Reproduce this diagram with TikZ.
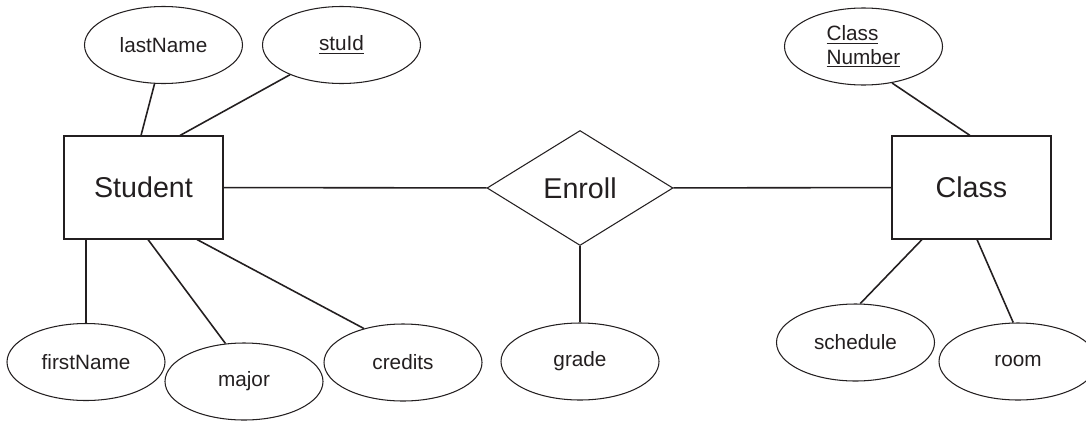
\documentclass[tikz,border=0pt]{standalone}
\usepackage{xcolor}
\usepackage{tikz}
\usepackage{fontspec}
\setmainfont{Liberation Sans}
\usetikzlibrary{positioning, shapes.geometric}
\definecolor{ink}{RGB}{35,31,32}
\tikzstyle{entity} = [rectangle, minimum width=3.18cm, minimum height=2.06cm, inner sep=0pt, text centered, draw=ink, line width=0.6pt, font=\fontsize{16.3}{19}\selectfont]
\tikzstyle{relation} = [diamond, minimum width=3.72cm, minimum height=2.3cm, inner sep=0pt, text centered, draw=ink, line width=0.6pt, font=\fontsize{16.3}{19}\selectfont]
\tikzstyle{attr} = [ellipse, minimum width=3.16cm, minimum height=1.54cm, inner sep=0pt, text centered, draw=ink, line width=0.6pt, font=\fontsize{11.8}{13}\selectfont]
\tikzstyle{link} = [draw=ink, line width=0.9pt]

\begin{document}
\begin{tikzpicture}[node distance=1cm, text=ink]
		\useasboundingbox (0,0) rectangle (21.72,-8.4);
		%实体与联系
		\node[entity] (student) at (2.87,-3.75) {Student};
		\node[relation] (enroll) at (11.6,-3.76) {Enroll};
		\node[entity] (class) at (19.43,-3.75) {Class};
		%属性
		\node[attr, above of = student, xshift = 0.4cm, yshift = 1.85cm] (lastname) {lastName};
		\node[attr, above of = student, xshift = 3.96cm, yshift = 1.85cm] (stuid) {\underline{stuId}};
		\node[attr, below of = student, xshift = -1.15cm, yshift = -2.49cm] (firstname) {firstName};
		\node[attr, below of = student, xshift = 2.01cm, yshift = -2.88cm] (major) {major};
		\node[attr, below of = student, xshift = 5.19cm, yshift = -2.5cm] (credits) {credits};
		\node[attr, below of = enroll, yshift = -2.47cm] (grade) {grade};
		\node[attr, above of = class, xshift = -2.16cm, yshift = 1.82cm, align = left] (classnum) {\underline{Class}\\[0.5pt]\underline{Number}};
		\node[attr, below of = class, xshift = -2.32cm, yshift = -2.1cm] (schedule) {schedule};
		\node[attr, below of = class, xshift = 0.93cm, yshift = -2.48cm] (room) {room};
		%连线
		\draw [link] (student) -- (enroll);
		\draw [link] (enroll) -- (class);
		\draw [link] (lastname.257) -- ([xshift=-0.05cm]student.north);
		\draw [link] (stuid.210) -- ([xshift=0.73cm]student.north);
		\draw [link] ([xshift=-1.15cm]student.south) -- (firstname.north);
		\draw [link] ([xshift=0.09cm]student.south) -- (major.116);
		\draw [link] ([xshift=1.07cm]student.south) -- (credits.139);
		\draw [link] (enroll.south) -- (grade.north);
		\draw [link] (classnum.308) -- ([xshift=-0.03cm]class.north);
		\draw [link] ([xshift=-0.99cm]class.south) -- (schedule.83);
		\draw [link] ([xshift=0.11cm]class.south) -- (room.97);

	\end{tikzpicture}
\end{document}
